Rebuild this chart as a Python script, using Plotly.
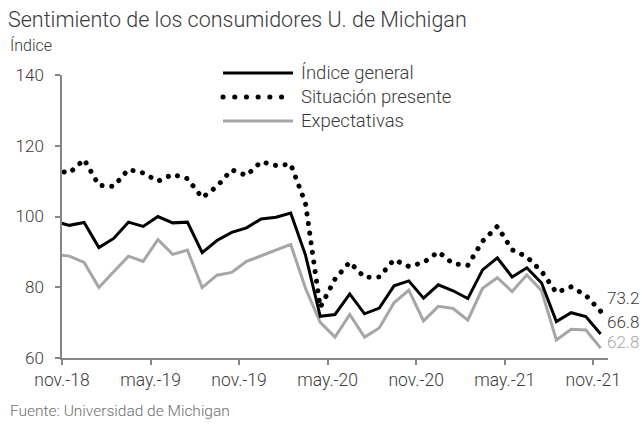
import plotly.graph_objects as go

# Monthly data, oct.-2018 .. nov.-2021 (oct.-18 lies just left of the axis and is clipped)
months = ["2018-10", "2018-11", "2018-12",
          "2019-01", "2019-02", "2019-03", "2019-04", "2019-05", "2019-06",
          "2019-07", "2019-08", "2019-09", "2019-10", "2019-11", "2019-12",
          "2020-01", "2020-02", "2020-03", "2020-04", "2020-05", "2020-06",
          "2020-07", "2020-08", "2020-09", "2020-10", "2020-11", "2020-12",
          "2021-01", "2021-02", "2021-03", "2021-04", "2021-05", "2021-06",
          "2021-07", "2021-08", "2021-09", "2021-10", "2021-11"]

indice_general = [98.6, 97.5, 98.3,
                  91.2, 93.8, 98.4, 97.2, 100.0, 98.2,
                  98.4, 89.8, 93.2, 95.5, 96.8, 99.3,
                  99.8, 101.0, 89.1, 71.8, 72.3, 78.1,
                  72.5, 74.1, 80.4, 81.8, 76.9, 80.7,
                  79.0, 76.8, 84.9, 88.3, 82.9, 85.5,
                  81.2, 70.3, 72.8, 71.7, 66.8]

situacion_presente = [113.1, 112.3, 116.1,
                      108.8, 108.5, 113.3, 112.3, 110.0, 111.9,
                      110.7, 105.3, 108.5, 113.2, 111.6, 115.5,
                      114.4, 114.8, 103.7, 74.3, 82.3, 87.1,
                      82.8, 82.9, 87.8, 85.9, 87.0, 90.0,
                      86.7, 86.2, 93.0, 97.2, 90.6, 88.6,
                      84.5, 78.5, 80.1, 77.7, 73.2]

expectativas = [89.3, 88.8, 87.0,
                79.9, 84.4, 88.8, 87.3, 93.5, 89.3,
                90.5, 79.9, 83.4, 84.2, 87.3, 88.9,
                90.5, 92.1, 79.7, 70.1, 65.9, 72.3,
                65.9, 68.5, 75.6, 79.2, 70.5, 74.6,
                74.0, 70.7, 79.7, 82.7, 78.8, 83.5,
                79.0, 65.1, 68.1, 67.9, 62.8]

tick_months = ["2018-11", "2019-05", "2019-11", "2020-05", "2020-11", "2021-05", "2021-11"]
tick_labels = ["nov.-18", "may.-19", "nov.-19", "may.-20", "nov.-20", "may.-21", "nov.-21"]

y_ticks = [60, 80, 100, 120, 140]

series_names = ["Índice general", "Situación presente", "Expectativas"]

# ---- positions / styles ----
W, H = 642, 426
ML, MR, MT, MB = 62, 34, 75, 68
PW, PH = W - ML - MR, H - MT - MB

def px(x):
    return (x - ML) / PW

def py(y):
    return (H - MB - y) / PH

FONT = "Roboto, Liberation Sans Narrow, sans-serif"
TXT = "#3a3a3a"
AX = "#868686"
BLACK = "#000000"
GRAY = "#a6a6a6"
WT = 300

base = months.index("2018-11")
x = [i - base for i in range(len(months))]
tick_pos = [months.index(m) - base - 0.5 for m in tick_months]

fig = go.Figure()
fig.add_trace(go.Scatter(x=x, y=expectativas, mode="lines", name=series_names[2],
                         line=dict(color=GRAY, width=3)))
fig.add_trace(go.Scatter(x=x, y=indice_general, mode="lines", name=series_names[0],
                         line=dict(color=BLACK, width=3)))
fig.add_trace(go.Scatter(x=x, y=situacion_presente, mode="lines", name=series_names[1],
                         line=dict(color=BLACK, width=5, dash="4px,6px")))

def f(size, color=TXT):
    return dict(size=size, color=color, family=FONT, weight=WT)

annotations = [
    dict(text="Índice", x=px(8), y=py(46), xref="paper", yref="paper",
         xanchor="left", yanchor="middle", showarrow=False, font=f(16)),
    dict(text="Fuente: Universidad de Michigan", x=px(8), y=py(411), xref="paper", yref="paper",
         xanchor="left", yanchor="middle", showarrow=False, font=f(15.5, "#6e6e6e")),
]

# end-of-series value labels
end_specs = [(situacion_presente, TXT, 13), (indice_general, TXT, 12), (expectativas, GRAY, 6)]
for vals, col, dy in end_specs:
    annotations.append(dict(text=f"{vals[-1]:.1f}", x=x[-1], y=vals[-1], xref="x", yref="y",
                            xanchor="left", yanchor="middle", xshift=4, yshift=dy,
                            showarrow=False, font=f(17, col)))

# manual legend
shapes = []
leg_items = [(series_names[0], dict(color=BLACK, width=3)),
             (series_names[1], dict(color=BLACK, width=5, dash="4px,7.6px")),
             (series_names[2], dict(color=GRAY, width=3))]
for k, (name, ln) in enumerate(leg_items):
    yy = 73 + 24 * k
    shapes.append(dict(type="line", xref="paper", yref="paper",
                       x0=px(223), x1=px(293), y0=py(yy), y1=py(yy), line=ln))
    annotations.append(dict(text=name, x=px(299), y=py(yy), xref="paper", yref="paper",
                            xanchor="left", yanchor="middle", showarrow=False, font=f(18.5)))

fig.update_layout(
    width=W, height=H, autosize=False,
    margin=dict(l=ML, r=MR, t=MT, b=MB),
    paper_bgcolor="white", plot_bgcolor="white",
    showlegend=False,
    font=dict(family=FONT, color=TXT, size=17, weight=WT),
    title=dict(text="Sentimiento de los consumidores U. de Michigan",
               xref="container", yref="container", x=8 / W, y=1 - 19 / H,
               xanchor="left", yanchor="middle", font=f(21.5)),
    xaxis=dict(range=[-0.5, 36.5], tickmode="array", tickvals=tick_pos, ticktext=tick_labels,
               showline=True, linecolor=AX, linewidth=1.5, ticks="outside", ticklen=5,
               tickcolor=AX, tickwidth=1.5, showgrid=False, zeroline=False,
               tickfont=f(17.5)),
    yaxis=dict(range=[60, 140], tickmode="array", tickvals=y_ticks,
               showline=True, linecolor=AX, linewidth=1.5, ticks="outside", ticklen=5,
               tickcolor=AX, tickwidth=1.5, showgrid=False, zeroline=False,
               tickfont=f(17), ticklabelstandoff=8),
    annotations=annotations,
    shapes=shapes,
)

# remove the page's default body margin and render the dotted series as round dots
post = """
document.body.style.margin = '0';
document.querySelectorAll('path').forEach(function (p) {
  var d = p.style.strokeDasharray;
  if (d && d !== 'none') {
    p.style.strokeLinecap = 'round';
    p.style.strokeDasharray = p.closest('.shapelayer') ? '0.1px,11.6px' : '0.1px,9.6px';
  }
});
"""

fig.write_html("out.html", post_script=post, config={"displayModeBar": False})
